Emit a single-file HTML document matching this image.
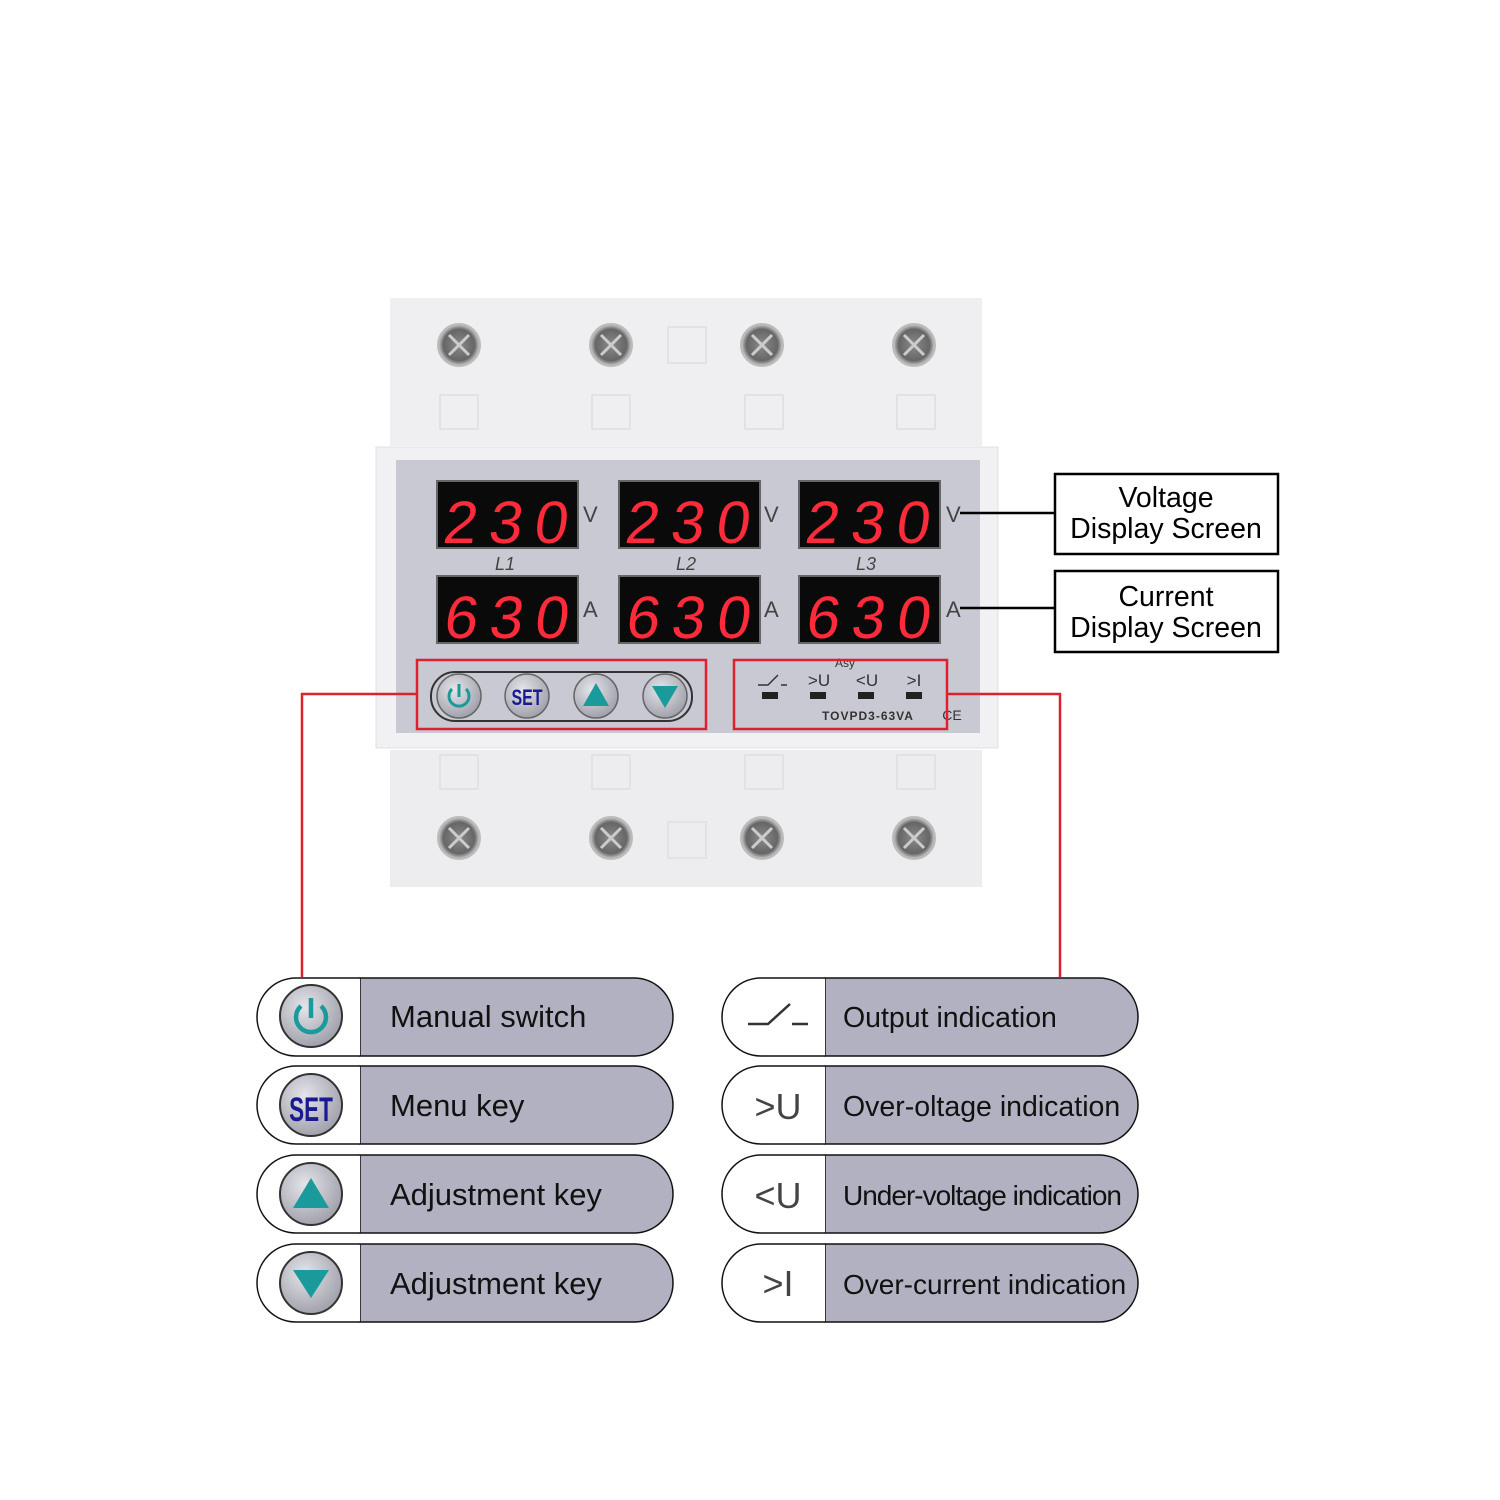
<!DOCTYPE html>
<html><head><meta charset="utf-8"><style>
body{margin:0;background:#fff}
svg{display:block}
text{font-family:"Liberation Sans",sans-serif}
</style></head><body>
<svg width="1500" height="1500" viewBox="0 0 1500 1500" xmlns="http://www.w3.org/2000/svg">
<defs>
<radialGradient id="btn" cx="40%" cy="35%" r="70%"><stop offset="0" stop-color="#e4e4ea"/><stop offset="1" stop-color="#9d9da8"/></radialGradient>
<radialGradient id="scr" cx="50%" cy="50%" r="50%"><stop offset="0" stop-color="#8a8a8a"/><stop offset="0.75" stop-color="#666"/><stop offset="1" stop-color="#d0d0d0"/></radialGradient>
</defs>
<rect x="390" y="298" width="592" height="148" fill="#efeff1"/>
<rect x="390" y="750" width="592" height="137" fill="#ededf0"/>
<g fill="none" stroke="#e2e2e6" stroke-width="2">
<rect x="440" y="395" width="38" height="34"/><rect x="592" y="395" width="38" height="34"/><rect x="745" y="395" width="38" height="34"/><rect x="897" y="395" width="38" height="34"/>
<rect x="668" y="327" width="38" height="36"/>
<rect x="440" y="755" width="38" height="34"/><rect x="592" y="755" width="38" height="34"/><rect x="745" y="755" width="38" height="34"/><rect x="897" y="755" width="38" height="34"/>
<rect x="668" y="822" width="38" height="36"/>
</g>
<g fill="url(#scr)" stroke="#bbb" stroke-width="2">
<circle cx="459" cy="345" r="21"/><circle cx="611" cy="345" r="21"/><circle cx="762" cy="345" r="21"/><circle cx="914" cy="345" r="21"/>
<circle cx="459" cy="838" r="21"/><circle cx="611" cy="838" r="21"/><circle cx="762" cy="838" r="21"/><circle cx="914" cy="838" r="21"/>
</g>
<g stroke="#ccc" stroke-width="3">
<path d="M449 335 L469 355 M469 335 L449 355"/><path d="M601 335 L621 355 M621 335 L601 355"/><path d="M752 335 L772 355 M772 335 L752 355"/><path d="M904 335 L924 355 M924 335 L904 355"/>
<path d="M449 828 L469 848 M469 828 L449 848"/><path d="M601 828 L621 848 M621 828 L601 848"/><path d="M752 828 L772 848 M772 828 L752 848"/><path d="M904 828 L924 848 M924 828 L904 848"/>
</g>
<rect x="376" y="447" width="622" height="301" fill="#f1f1f3" stroke="#e0e0e4"/>
<rect x="396" y="460" width="584" height="273" fill="#c9c9d3"/>
<g fill="#0a0a0a" stroke="#666" stroke-width="2">
<rect x="437" y="481" width="141" height="67"/><rect x="619" y="481" width="141" height="67"/><rect x="799" y="481" width="141" height="67"/>
<rect x="437" y="576" width="141" height="67"/><rect x="619" y="576" width="141" height="67"/><rect x="799" y="576" width="141" height="67"/>
</g>
<g fill="#ff2a3a" font-size="60" letter-spacing="12">
<text x="442" y="543" font-family="Liberation Mono,monospace" transform="skewX(-8)" dx="76">230</text>
<text x="624" y="543" font-family="Liberation Mono,monospace" transform="skewX(-8)" dx="76">230</text>
<text x="804" y="543" font-family="Liberation Mono,monospace" transform="skewX(-8)" dx="76">230</text>
<text x="442" y="638" font-family="Liberation Mono,monospace" transform="skewX(-8)" dx="90">630</text>
<text x="624" y="638" font-family="Liberation Mono,monospace" transform="skewX(-8)" dx="90">630</text>
<text x="804" y="638" font-family="Liberation Mono,monospace" transform="skewX(-8)" dx="90">630</text>
</g>
<g fill="#444" font-size="22">
<text x="583" y="522">V</text><text x="764" y="522">V</text><text x="946" y="522">V</text>
<text x="583" y="617">A</text><text x="764" y="617">A</text><text x="946" y="617">A</text>
</g>
<g fill="#444" font-size="18" font-style="italic" text-anchor="middle">
<text x="505" y="570">L1</text><text x="686" y="570">L2</text><text x="866" y="570">L3</text>
</g>
<rect x="431" y="672" width="261" height="49" rx="24" fill="#c9c9d3" stroke="#333" stroke-width="2"/>
<g fill="url(#btn)" stroke="#666" stroke-width="1.5">
<circle cx="459" cy="696" r="22"/><circle cx="527" cy="696" r="22"/><circle cx="596" cy="696" r="22"/><circle cx="665" cy="696" r="22"/>
</g>
<path d="M452 689 A10 10 0 1 0 466 689" fill="none" stroke="#1a9a9a" stroke-width="3"/><line x1="459" y1="684" x2="459" y2="697" stroke="#1a9a9a" stroke-width="3"/>
<text x="527" y="705" text-anchor="middle" font-size="20" font-weight="bold" fill="#1a1a90" transform="translate(527 0) scale(0.8 1.1) translate(-527 -64)">SET</text>
<polygon points="596,683 583,706 609,706" fill="#1a9a9a"/>
<polygon points="652,686 678,686 665,708" fill="#1a9a9a"/>
<g fill="#333" font-size="17" text-anchor="middle">
<text x="819" y="686">&gt;U</text><text x="867" y="686">&lt;U</text><text x="914" y="686">&gt;I</text>
<text x="845" y="667" font-size="12">Asy</text>
<text x="868" y="720" font-size="12" font-weight="bold" letter-spacing="1">TOVPD3-63VA</text>
<text x="952" y="720" font-size="14">CE</text>
</g>
<path d="M758 685 H768 L778 675 M781 685 H787" stroke="#333" stroke-width="1.5" fill="none"/>
<g fill="#222"><rect x="762" y="692" width="16" height="7"/><rect x="810" y="692" width="16" height="7"/><rect x="858" y="692" width="16" height="7"/><rect x="906" y="692" width="16" height="7"/></g>
<g fill="none" stroke="#e0202e" stroke-width="2.5">
<rect x="417" y="660" width="289" height="69"/>
<rect x="734" y="660" width="213" height="69"/>
<polyline points="417,694 302,694 302,977"/>
<polyline points="947,694 1060,694 1060,977"/>
</g>
<g stroke="#000" stroke-width="2.5" fill="#fff">
<line x1="960" y1="513" x2="1055" y2="513"/><line x1="960" y1="608" x2="1055" y2="608"/>
<rect x="1055" y="474" width="223" height="80"/><rect x="1055" y="571" width="223" height="81"/>
</g>
<g font-size="28.5" text-anchor="middle" fill="#000">
<text x="1166" y="507">Voltage</text><text x="1166" y="538">Display Screen</text>
<text x="1166" y="606">Current</text><text x="1166" y="637">Display Screen</text>
</g>
<g stroke="#111" stroke-width="1.5">
<path d="M360 978 H634 A39 39 0 0 1 634 1056 H360 Z" fill="#b1b1c1"/>
<path d="M360 1066 H634 A39 39 0 0 1 634 1144 H360 Z" fill="#b1b1c1"/>
<path d="M360 1155 H634 A39 39 0 0 1 634 1233 H360 Z" fill="#b1b1c1"/>
<path d="M360 1244 H634 A39 39 0 0 1 634 1322 H360 Z" fill="#b1b1c1"/>
<path d="M825 978 H1099 A39 39 0 0 1 1099 1056 H825 Z" fill="#b1b1c1"/>
<path d="M825 1066 H1099 A39 39 0 0 1 1099 1144 H825 Z" fill="#b1b1c1"/>
<path d="M825 1155 H1099 A39 39 0 0 1 1099 1233 H825 Z" fill="#b1b1c1"/>
<path d="M825 1244 H1099 A39 39 0 0 1 1099 1322 H825 Z" fill="#b1b1c1"/>
<path d="M360 978 H296 A39 39 0 0 0 296 1056 H360" fill="#fff"/>
<path d="M360 1066 H296 A39 39 0 0 0 296 1144 H360" fill="#fff"/>
<path d="M360 1155 H296 A39 39 0 0 0 296 1233 H360" fill="#fff"/>
<path d="M360 1244 H296 A39 39 0 0 0 296 1322 H360" fill="#fff"/>
<path d="M825 978 H761 A39 39 0 0 0 761 1056 H825" fill="#fff"/>
<path d="M825 1066 H761 A39 39 0 0 0 761 1144 H825" fill="#fff"/>
<path d="M825 1155 H761 A39 39 0 0 0 761 1233 H825" fill="#fff"/>
<path d="M825 1244 H761 A39 39 0 0 0 761 1322 H825" fill="#fff"/>
</g>
<g fill="url(#btn)" stroke="#333" stroke-width="2">
<circle cx="311" cy="1016" r="31"/><circle cx="311" cy="1105" r="31"/><circle cx="311" cy="1194" r="31"/><circle cx="311" cy="1283" r="31"/>
</g>
<path d="M301 1006 A15 15 0 1 0 321 1006" fill="none" stroke="#1a9a9a" stroke-width="4.5"/><line x1="311" y1="998" x2="311" y2="1018" stroke="#1a9a9a" stroke-width="4.5"/>
<text x="311" y="1119" text-anchor="middle" font-size="30" font-weight="bold" fill="#1a1a90" transform="translate(311 1105) scale(0.75 1.15) translate(-311 -1105)">SET</text>
<polygon points="311,1178 293,1208 329,1208" fill="#1a9a9a"/>
<polygon points="293,1270 329,1270 311,1298" fill="#1a9a9a"/>
<g font-size="31" fill="#111">
<text x="390" y="1027">Manual switch</text>
<text x="390" y="1116">Menu key</text>
<text x="390" y="1205">Adjustment key</text>
<text x="390" y="1294">Adjustment key</text>
<text x="843" y="1027" font-size="28.5">Output indication</text>
<text x="843" y="1116" font-size="28.5">Over-oltage indication</text>
<text x="843" y="1205" font-size="28" letter-spacing="-1">Under-voltage indication</text>
<text x="843" y="1294" font-size="28">Over-current indication</text>
</g>
<path d="M748 1024 H768 L790 1004 M792 1024 H808" stroke="#333" stroke-width="2.5" fill="none"/>
<g font-size="36" fill="#444" text-anchor="middle">
<text x="778" y="1119">&gt;U</text><text x="778" y="1208">&lt;U</text><text x="778" y="1296">&gt;I</text>
</g>
</svg>
</body></html>
